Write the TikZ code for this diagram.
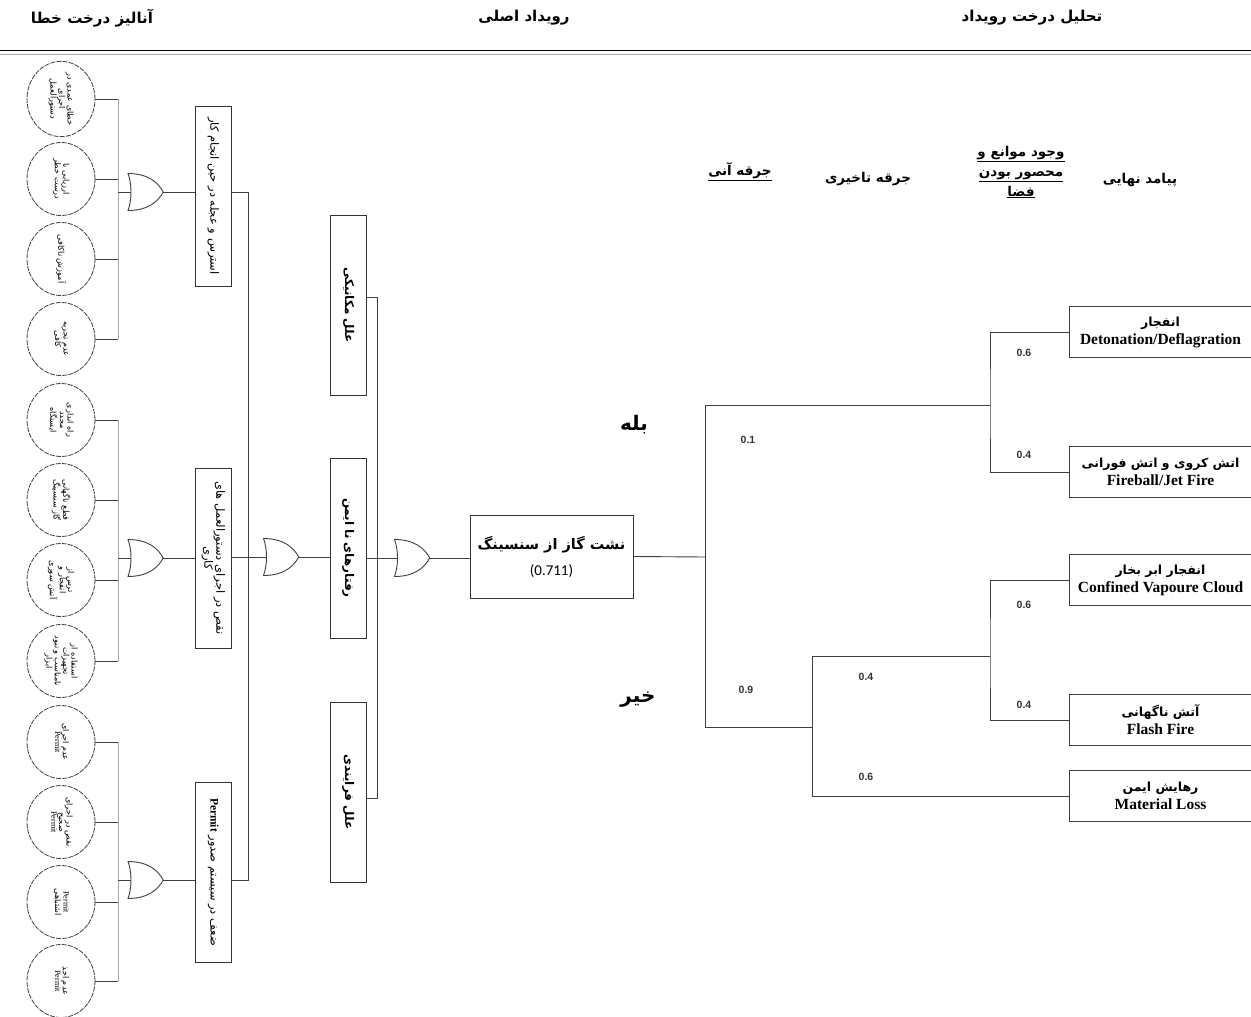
\documentclass[tikz,border=0pt]{standalone}
\usepackage{fontspec}
\usepackage{graphicx}
\usetikzlibrary{shapes.geometric}
\setmainfont{Liberation Serif}
\newfontfamily\fafont[Script=Arabic]{DejaVu Sans}
\newfontfamily\numfont{Liberation Sans}
\newfontfamily\calfont{Carlito}
\TeXXeTstate=1
\newcommand\fa[1]{{\fafont\beginR #1\endR}}
\newcommand\rl[1]{\rotatebox{-90}{\begin{tabular}{@{}c@{}}#1\end{tabular}}}
\renewcommand\arraystretch{0.85}
\tikzset{
  ln/.style={draw=black!75, line width=0.9pt},
  bar/.style={draw=black!35, line width=0.7pt},
  cause/.style={ellipse, draw=black!75, dash pattern=on 5pt off 1.2pt, line width=0.8pt,
    minimum width=68, minimum height=73, inner sep=0pt, font=\fontsize{8.1}{9}\selectfont},
  gbox/.style={draw=black!80, line width=0.9pt, minimum width=36, minimum height=180,
    inner sep=0pt, font=\fontsize{11.5}{13}\selectfont},
  mbox/.style={gbox, font=\bfseries\fontsize{12}{13}\selectfont},
  gatebox/.style={inner sep=0pt, minimum width=35, minimum height=37},
  hd/.style={font=\bfseries\fontsize{15}{17}\selectfont, inner sep=1pt},
  ch/.style={font=\bfseries\fontsize{13.5}{20}\selectfont, inner sep=1pt, align=center},
  yn/.style={font=\bfseries\fontsize{20}{22}\selectfont, inner sep=1pt},
  pr/.style={font=\numfont\bfseries\fontsize{10.5}{12}\selectfont, text=black!80, inner sep=1pt},
  outc/.style={minimum width=181, minimum height=51, inner sep=0pt, align=center,
    font=\bfseries\fontsize{15.5}{18}\selectfont},
  mainbox/.style={draw=black!80, line width=0.9pt, minimum width=163, minimum height=83,
    inner sep=0pt, align=center, font=\bfseries\fontsize{14.5}{20}\selectfont}
}
\newcommand\ofa[1]{{\fontsize{12.5}{14}\selectfont\fa{#1}}}
\newcommand\orgate[3]{%
  \node[gatebox] (#1) at (#2,#3) {};
  \coordinate (#1-in) at ([shift={(-14.5,0)}]#1.center);
  \draw[ln] ([shift={(-17.5,-18.5)}]#1.center)
    .. controls ([shift={(3,-18.5)}]#1.center) and ([shift={(13,-9)}]#1.center) .. (#1.east)
    .. controls ([shift={(13,9)}]#1.center) and ([shift={(3,18.5)}]#1.center) .. ([shift={(-17.5,18.5)}]#1.center)
    .. controls ([shift={(-13.5,8)}]#1.center) and ([shift={(-13.5,-8)}]#1.center) .. cycle;
}
\begin{document}
\begin{tikzpicture}[x=1pt,y=-1pt]
\useasboundingbox (0,0) rectangle (1251,1017);
\fill[white] (0,0) rectangle (1251,1017);

% headers
\node[hd] (h1) at (92,18) {\fa{آنالیز درخت خطا}};
\node[hd] (h2) at (524,18) {\fa{رویداد اصلی}};
\node[hd] (h3) at (1032,18) {\fa{تحلیل درخت رویداد}};
\draw[line width=1.6pt] (0,50.5) -- (1251,50.5);
\draw[black!35, line width=0.6pt] (0,54) -- (1251,54);

% basic causes
\node[cause] (c1) at (61,99) {\rl{\fa{خطای عمدی در}\\\fa{اجرای}\\\fa{دستورالعمل}}};
\node[cause] (c2) at (61,179) {\rl{\fa{ارزیابی نا}\\\fa{درست خطر}}};
\node[cause] (c3) at (61,259) {\rl{\fa{آموزش ناکافی}}};
\node[cause] (c4) at (61,339) {\rl{\fa{عدم تجربه}\\\fa{کافی}}};
\node[cause] (c5) at (61,420) {\rl{\fa{راه اندازی}\\\fa{مجدد}\\\fa{ایستگاه}}};
\node[cause] (c6) at (61,500) {\rl{\fa{قطع ناگهانی}\\\fa{گاز سنسینگ}}};
\node[cause] (c7) at (61,580) {\rl{\fa{ترس از}\\\fa{انفجار و}\\\fa{آتش سوزی}}};
\node[cause] (c8) at (61,661) {\rl{\fa{استفاده از}\\\fa{تجهیزات}\\\fa{نامناسب و نبود}\\\fa{ابزار}}};
\node[cause] (c9) at (61,742) {\rl{\fa{عدم اجرای}\\Permit}};
\node[cause] (c10) at (61,822) {\rl{\fa{نقص در اجرای}\\\fa{صحیح}\\Permit}};
\node[cause] (c11) at (61,902) {\rl{Permit\\\fa{اشتباهی}}};
\node[cause] (c12) at (61,981) {\rl{\fa{عدم اخذ}\\Permit}};

% bars
\coordinate (bar1t) at (118,99);  \coordinate (bar1b) at (118,339);
\coordinate (bar2t) at (118,420); \coordinate (bar2b) at (118,661);
\coordinate (bar3t) at (118,742); \coordinate (bar3b) at (118,981);
\draw[bar] (bar1t) -- (bar1b);
\draw[bar] (bar2t) -- (bar2b);
\draw[bar] (bar3t) -- (bar3b);
\foreach \c in {c1,c2,c3,c4} \draw[ln] (\c.east) -- (\c.east -| bar1t);
\foreach \c in {c5,c6,c7,c8} \draw[ln] (\c.east) -- (\c.east -| bar2t);
\foreach \c in {c9,c10,c11,c12} \draw[ln] (\c.east) -- (\c.east -| bar3t);

% first gates
\orgate{g1}{145.5}{192}
\orgate{g2}{145.5}{558}
\orgate{g3}{145.5}{880}
\draw[ln] (bar1t |- g1-in) -- (g1-in);
\draw[ln] (bar2t |- g2-in) -- (g2-in);
\draw[ln] (bar3t |- g3-in) -- (g3-in);

% intermediate boxes
\node[gbox] (b1) at (213,196) {\rl{\fa{استرس و عجله در حین انجام کار}}};
\node[gbox] (b2) at (213,558) {\rl{\fa{نقص در اجرای دستورالعمل های}\\\fa{کاری}}};
\node[gbox] (b3) at (213,872) {\rl{\fa{ضعف در سیستم صدور \beginL{\rmfamily\bfseries\fontsize{11.5}{12}\selectfont Permit}\endL}}};
\draw[ln] (g1.east) -- (b1.west |- g1.east);
\draw[ln] (g2.east) -- (b2.west |- g2.east);
\draw[ln] (g3.east) -- (b3.west |- g3.east);

\coordinate (sp1) at (248,192);
\coordinate (sp3) at (248,880);
\orgate{g4}{281}{557}
\draw[ln] (b1.east |- sp1) -- (sp1) -- (sp3) -- (b3.east |- sp3);
\draw[ln] (b2.east |- g4-in) -- (g4-in);

% middle boxes
\node[mbox] (m1) at (348,305) {\rl{\fa{علل مکانیکی}}};
\node[mbox] (m2) at (348,548) {\rl{\fa{رفتارهای نا ایمن}}};
\node[mbox] (m3) at (348,792) {\rl{\fa{علل فرایندی}}};
\draw[ln] (g4.east) -- (m2.west |- g4.east);
\coordinate (sq1) at (377,297);
\coordinate (sq3) at (377,798);
\orgate{g5}{412}{558}
\draw[ln] (m1.east |- sq1) -- (sq1) -- (sq3) -- (m3.east |- sq3);
\draw[ln] (m2.east |- g5-in) -- (g5-in);

% top event
\node[mainbox] (main) at (551.5,556.5) {\fa{نشت گاز از سنسینگ}\\[6pt]{\calfont\mdseries\fontsize{15}{16}\selectfont (0.711)}};
\draw[ln] (g5.east) -- (main.west |- g5.east);

% event tree column headers
\node[ch] (k1) at (740,172) {\underline{\fa{جرقه آنی}}};
\node[ch] (k2) at (868,179) {\fa{جرقه تاخیری}};
\node[ch] (k3) at (1021,172) {\underline{\fa{وجود موانع و}}\\\underline{\fa{محصور بودن}}\\\underline{\fa{فضا}}};
\node[ch] (k4) at (1140,180) {\fa{پیامد نهایی}};

\node[yn] (yes) at (634,425) {\fa{بله}};
\node[yn] (no) at (638,700) {\fa{خیر}};

% outcomes
\node[outc] (o1) at (1160.5,332) {\ofa{انفجار}\\Detonation/Deflagration};
\node[outc] (o2) at (1160.5,472) {\ofa{اتش کروی و اتش فورانی}\\Fireball/Jet Fire};
\node[outc] (o3) at (1160.5,580) {\ofa{انفجار ابر بخار}\\Confined Vapoure Cloud};
\node[outc] (o4) at (1160.5,720) {\ofa{آتش ناگهانی}\\Flash Fire};
\node[outc] (o5) at (1160.5,796) {\ofa{رهایش ایمن}\\Material Loss};
\foreach \o in {o1,o2,o3,o4,o5}
  \draw[ln] (\o.north east) -- (\o.north west) -- (\o.south west) -- (\o.south east);

% event tree branches
\coordinate (t0) at (705,557);
\coordinate (t1) at (705,405);
\coordinate (t2) at (705,727);
\coordinate (ua) at (990,405);
\coordinate (lb) at (812,727);
\coordinate (lc) at (812,656);
\coordinate (ld) at (990,656);
\draw[ln] (main.east) -- (t0);
\draw[ln] (t1) -- (t2);
\draw[ln] (t1) -- (ua);
\draw[ln] (o1.west) -| (ua) |- (o2.west);
\draw[ln] (t2) -- (lb);
\draw[ln] (lc) |- (o5.west);
\draw[ln] (lc) -- (ld);
\draw[ln] (o3.west) -| (ld) |- (o4.west);

% probabilities
\node[pr] (p1) at (748,440) {0.1};
\node[pr] (p2) at (746,690) {0.9};
\node[pr] (p3) at (1024,353) {0.6};
\node[pr] (p4) at (1024,455) {0.4};
\node[pr] (p5) at (866,677) {0.4};
\node[pr] (p6) at (866,777) {0.6};
\node[pr] (p7) at (1024,605) {0.6};
\node[pr] (p8) at (1024,705) {0.4};
\end{tikzpicture}
\end{document}
